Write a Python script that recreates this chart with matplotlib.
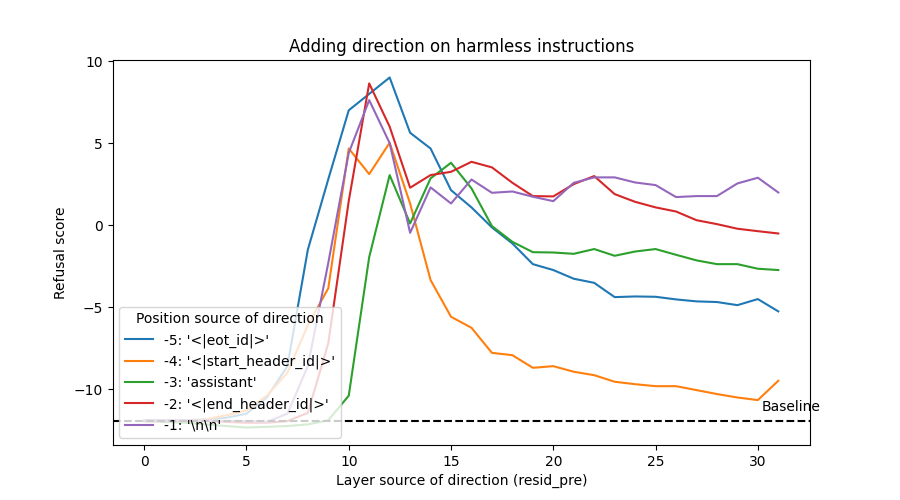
import matplotlib
matplotlib.use("Agg")
import matplotlib.pyplot as plt
import numpy as np

layers = list(range(32))

labels = [
    "-5: '<|eot_id|>'",
    "-4: '<|start_header_id|>'",
    "-3: 'assistant'",
    "-2: '<|end_header_id|>'",
    "-1: '\\n\\n'",
]

pos_m5 = [-11.9, -11.9, -11.9, -11.85, -11.75, -11.5, -10.5, -8.6, -1.5, 2.8,
          7.0, 8.0, 9.0, 5.63, 4.67, 2.13, 1.08, -0.14, -1.12, -2.38,
          -2.74, -3.27, -3.52, -4.39, -4.35, -4.37, -4.53, -4.65, -4.69, -4.88,
          -4.51, -5.26]
pos_m4 = [-11.95, -11.95, -11.9, -11.85, -11.6, -11.3, -10.4, -9.0, -6.1, -3.85,
          4.67, 3.11, 5.02, 1.32, -3.35, -5.59, -6.26, -7.79, -7.93, -8.70,
          -8.60, -8.94, -9.15, -9.55, -9.70, -9.82, -9.82, -10.06, -10.30, -10.51,
          -10.67, -9.49]
pos_m3 = [-11.95, -12.0, -12.05, -12.15, -12.25, -12.34, -12.3, -12.25, -12.15, -11.9,
          -10.4, -1.95, 3.05, 0.10, 2.85, 3.80, 2.24, -0.06, -1.02, -1.65,
          -1.67, -1.75, -1.46, -1.87, -1.61, -1.46, -1.81, -2.15, -2.38, -2.38,
          -2.66, -2.74]
pos_m2 = [-11.95, -11.95, -11.95, -11.95, -12.0, -12.05, -12.05, -11.95, -11.45, -7.2,
          1.47, 8.64, 6.0, 2.28, 3.05, 3.25, 3.86, 3.52, 2.58, 1.77,
          1.75, 2.5, 2.99, 1.89, 1.42, 1.08, 0.83, 0.30, 0.06, -0.22,
          -0.37, -0.51]
pos_m1 = [-11.9, -11.9, -11.9, -11.9, -11.95, -11.95, -12.0, -11.5, -8.6, -2.3,
          4.4, 7.62, 5.0, -0.47, 2.30, 1.32, 2.78, 1.97, 2.05, 1.73,
          1.46, 2.58, 2.91, 2.91, 2.60, 2.44, 1.71, 1.77, 1.77, 2.54,
          2.89, 1.99]

baseline = -11.93

series = [pos_m5, pos_m4, pos_m3, pos_m2, pos_m1]

fig, ax = plt.subplots(figsize=(9, 5), dpi=100)
for vals, lab in zip(series, labels):
    ax.plot(layers, vals, label=lab)

ax.axhline(y=baseline, color="black", linestyle="--")
ax.text(30.2, baseline + 0.6, "Baseline")

ax.set_title("Adding direction on harmless instructions")
ax.set_xlabel("Layer source of direction (resid_pre)")
ax.set_ylabel("Refusal score")
ax.legend(title="Position source of direction", loc="lower left")

fig.savefig("out.png", dpi=100)
